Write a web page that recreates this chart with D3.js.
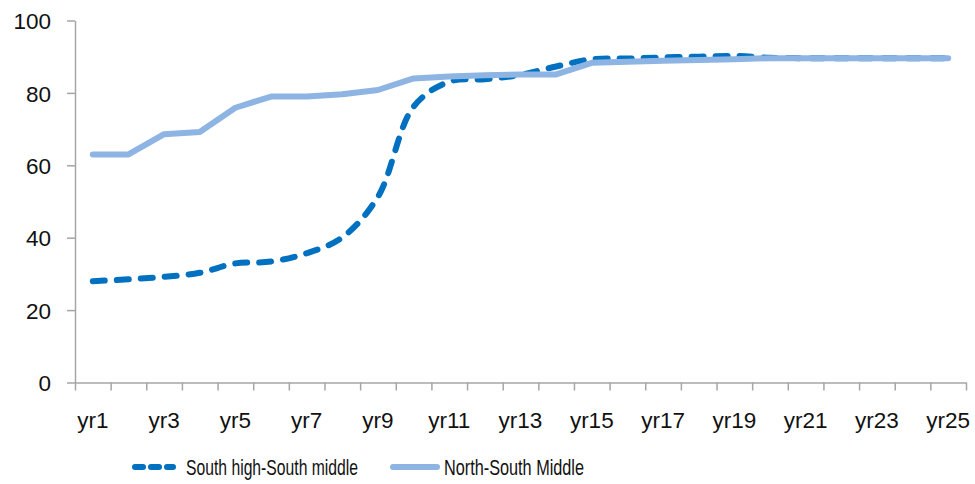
<!DOCTYPE html>
<html>
<head>
<meta charset="utf-8">
<script src="https://cdn.jsdelivr.net/npm/d3@7"></script>
<style>
  html, body { margin: 0; padding: 0; background: #fff; }
  svg { display: block; }
  text { font-family: "Liberation Sans", Arial, sans-serif; fill: #111; }
</style>
</head>
<body>
<svg id="chart" width="975" height="484"></svg>
<script>
const categories = ["yr1","yr2","yr3","yr4","yr5","yr6","yr7","yr8","yr9","yr10","yr11","yr12","yr13","yr14","yr15","yr16","yr17","yr18","yr19","yr20","yr21","yr22","yr23","yr24","yr25"];
const southHighSouthMiddle = [28, 28.5, 29.2, 30.3, 32.9, 33.4, 35.7, 40.1, 51.3, 76.2, 83.1, 83.8, 85, 87.3, 89.3, 89.5, 89.8, 90, 90.2, 89.7, 89.6, 89.6, 89.6, 89.6, 89.6];
const northSouthMiddle = [63, 63, 68.6, 69.2, 75.9, 79, 79, 79.6, 80.8, 84, 84.5, 84.9, 85.1, 85.1, 88.3, 88.6, 88.9, 89.1, 89.3, 89.6, 89.6, 89.6, 89.6, 89.6, 89.6];
const yTicks = [0, 20, 40, 60, 80, 100];
const seriesNames = ["South high-South middle", "North-South Middle"];

(function () {
const svg = d3.select("#chart");
const mLeft = 75, mRight = 966, mTop = 20.5, mBottom = 382.5;

const x = d3.scalePoint().domain(categories).range([mLeft, mRight]).padding(0.5);
const xEdge = d3.scaleLinear().domain([0, categories.length]).range([mLeft, mRight]);
const y = d3.scaleLinear().domain([0, 100]).range([mBottom, mTop]);

const axisColor = "#a6a6a6";
const fontSize = "22.5px";

// Y axis
const yAxis = svg.append("g")
  .attr("transform", `translate(${mLeft},0)`)
  .call(d3.axisLeft(y).tickValues(yTicks).tickSize(8).tickPadding(16).tickSizeOuter(0));
yAxis.select(".domain").attr("stroke", axisColor).attr("stroke-width", 1.5);
yAxis.selectAll(".tick line").attr("stroke", axisColor).attr("stroke-width", 1.5);
yAxis.selectAll(".tick text").style("font-size", fontSize).attr("fill", "#111").attr("dy", "0.36em");

// X axis (ticks at category boundaries)
const xAxis = svg.append("g")
  .attr("transform", `translate(0,${mBottom})`)
  .call(d3.axisBottom(xEdge).tickValues(d3.range(categories.length + 1)).tickFormat("").tickSize(8).tickSizeOuter(0));
xAxis.select(".domain").attr("stroke", axisColor).attr("stroke-width", 1.5);
xAxis.selectAll(".tick line").attr("stroke", axisColor).attr("stroke-width", 1.5);

// X labels (every other category)
svg.append("g").selectAll("text")
  .data(categories.filter((d, i) => i % 2 === 0))
  .join("text")
  .attr("x", d => x(d))
  .attr("y", 428)
  .attr("text-anchor", "middle")
  .style("font-size", fontSize)
  .text(d => d);

// Lines
const lineSmooth = d3.line()
  .x((d, i) => x(categories[i]))
  .y(d => y(d))
  .curve(d3.curveCatmullRom.alpha(0.5));
const lineStraight = d3.line()
  .x((d, i) => x(categories[i]))
  .y(d => y(d));

svg.append("path")
  .datum(southHighSouthMiddle)
  .attr("fill", "none")
  .attr("stroke", "#0070c0")
  .attr("stroke-width", 6)
  .attr("stroke-linecap", "round")
  .attr("stroke-dasharray", "12,12")
  .attr("d", lineSmooth);

svg.append("path")
  .datum(northSouthMiddle)
  .attr("fill", "none")
  .attr("stroke", "#8db4e2")
  .attr("stroke-width", 6)
  .attr("stroke-linecap", "round")
  .attr("stroke-linejoin", "round")
  .attr("d", lineStraight);

// Legend
const legend = svg.append("g");
const legendItems = [
  { name: seriesNames[0], color: "#0070c0", dash: "8,8", width: 6, x0: 135, x1: 173, tx: 186, tw: 172 },
  { name: seriesNames[1], color: "#8db4e2", dash: null, width: 6, x0: 393, x1: 437, tx: 444, tw: 140 }
];
legendItems.forEach(it => {
  legend.append("line")
    .attr("x1", it.x0).attr("x2", it.x1)
    .attr("y1", 467).attr("y2", 467)
    .attr("stroke", it.color)
    .attr("stroke-width", it.width)
    .attr("stroke-linecap", "round")
    .attr("stroke-dasharray", it.dash);
  legend.append("text")
    .attr("x", it.tx).attr("y", 475)
    .attr("textLength", it.tw)
    .attr("lengthAdjust", "spacingAndGlyphs")
    .style("font-size", fontSize)
    .text(it.name);
});
})();
</script>
</body>
</html>
